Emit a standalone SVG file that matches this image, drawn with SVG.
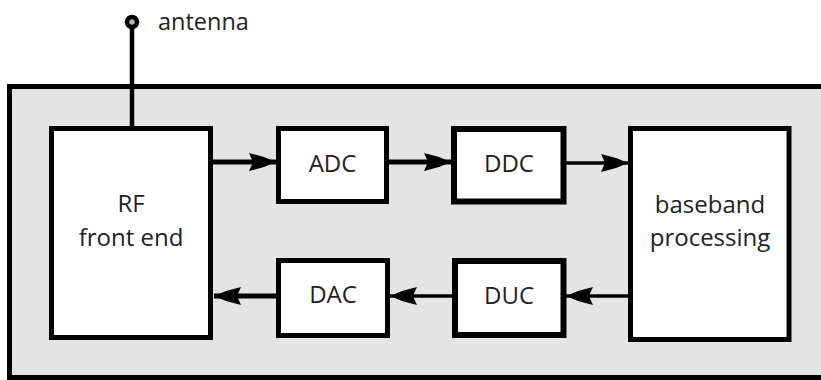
<svg xmlns="http://www.w3.org/2000/svg" width="821" height="380" viewBox="0 0 821 380">
  <style>
    .box { fill: #ffffff; stroke: #000000; stroke-width: 5; }
    .box.heavy { stroke-width: 6; }
    .label { font-family: "Open Sans", "Noto Sans", sans-serif; font-size: 24px; fill: #222222; text-anchor: middle; }
    .wire { fill: none; stroke: #000000; stroke-width: 3.5; }
    .wire.bold { stroke-width: 5; }
  </style>
  <defs>
    <marker id="head" viewBox="-30 -11 32 22" refX="0" refY="0" markerUnits="userSpaceOnUse" markerWidth="32" markerHeight="22" orient="auto">
      <path d="M0,0 L-12,-5 L-27,-9 L-23,0 L-27,9 L-12,5 Z" fill="#000000"/>
    </marker>
  </defs>

  <!-- radio enclosure -->
  <rect id="enclosure" x="9.5" y="86.5" width="830" height="291" fill="#e4e4e4" stroke="#000000" stroke-width="5"/>

  <!-- antenna -->
  <g id="antenna">
    <line x1="132" y1="28" x2="132" y2="128" stroke="#000000" stroke-width="4.5"/>
    <circle cx="132" cy="22" r="5" fill="#b5b5b5" stroke="#000000" stroke-width="4.5"/>
    <text x="158" y="30" font-family="'Open Sans', 'Noto Sans', sans-serif" font-size="23.5" fill="#222222">antenna</text>
  </g>

  <g id="rf">
    <rect class="box" x="51.5" y="128.5" width="159" height="209"/>
    <text class="label" x="131" y="212">RF</text>
    <text class="label" x="131" y="246">front end</text>
  </g>

  <g id="adc">
    <rect class="box" x="278.5" y="128.5" width="108" height="73"/>
    <text class="label" x="332.5" y="172">ADC</text>
  </g>

  <g id="ddc">
    <rect class="box heavy" x="454" y="129" width="109.5" height="72.5"/>
    <text class="label" x="509" y="172">DDC</text>
  </g>

  <g id="baseband">
    <rect class="box" x="630.5" y="128.5" width="158.5" height="211"/>
    <text class="label" x="710" y="213">baseband</text>
    <text class="label" x="710" y="246">processing</text>
  </g>

  <g id="duc">
    <rect class="box heavy" x="455" y="261" width="108.5" height="74"/>
    <text class="label" x="509" y="304">DUC</text>
  </g>

  <g id="dac">
    <rect class="box" x="278.5" y="260.5" width="109" height="75"/>
    <text class="label" x="333" y="303">DAC</text>
  </g>

  <g id="connectors">
    <line class="wire bold" x1="213" y1="162" x2="276" y2="162" marker-end="url(#head)"/>
    <line class="wire bold" x1="389" y1="162" x2="451" y2="162" marker-end="url(#head)"/>
    <line class="wire" x1="566" y1="163" x2="628" y2="163" marker-end="url(#head)"/>
    <line class="wire" x1="628" y1="296" x2="566" y2="296" marker-end="url(#head)"/>
    <line class="wire" x1="452" y1="296" x2="390" y2="296" marker-end="url(#head)"/>
    <line class="wire bold" x1="276" y1="296" x2="214" y2="296" marker-end="url(#head)"/>
  </g>
</svg>
